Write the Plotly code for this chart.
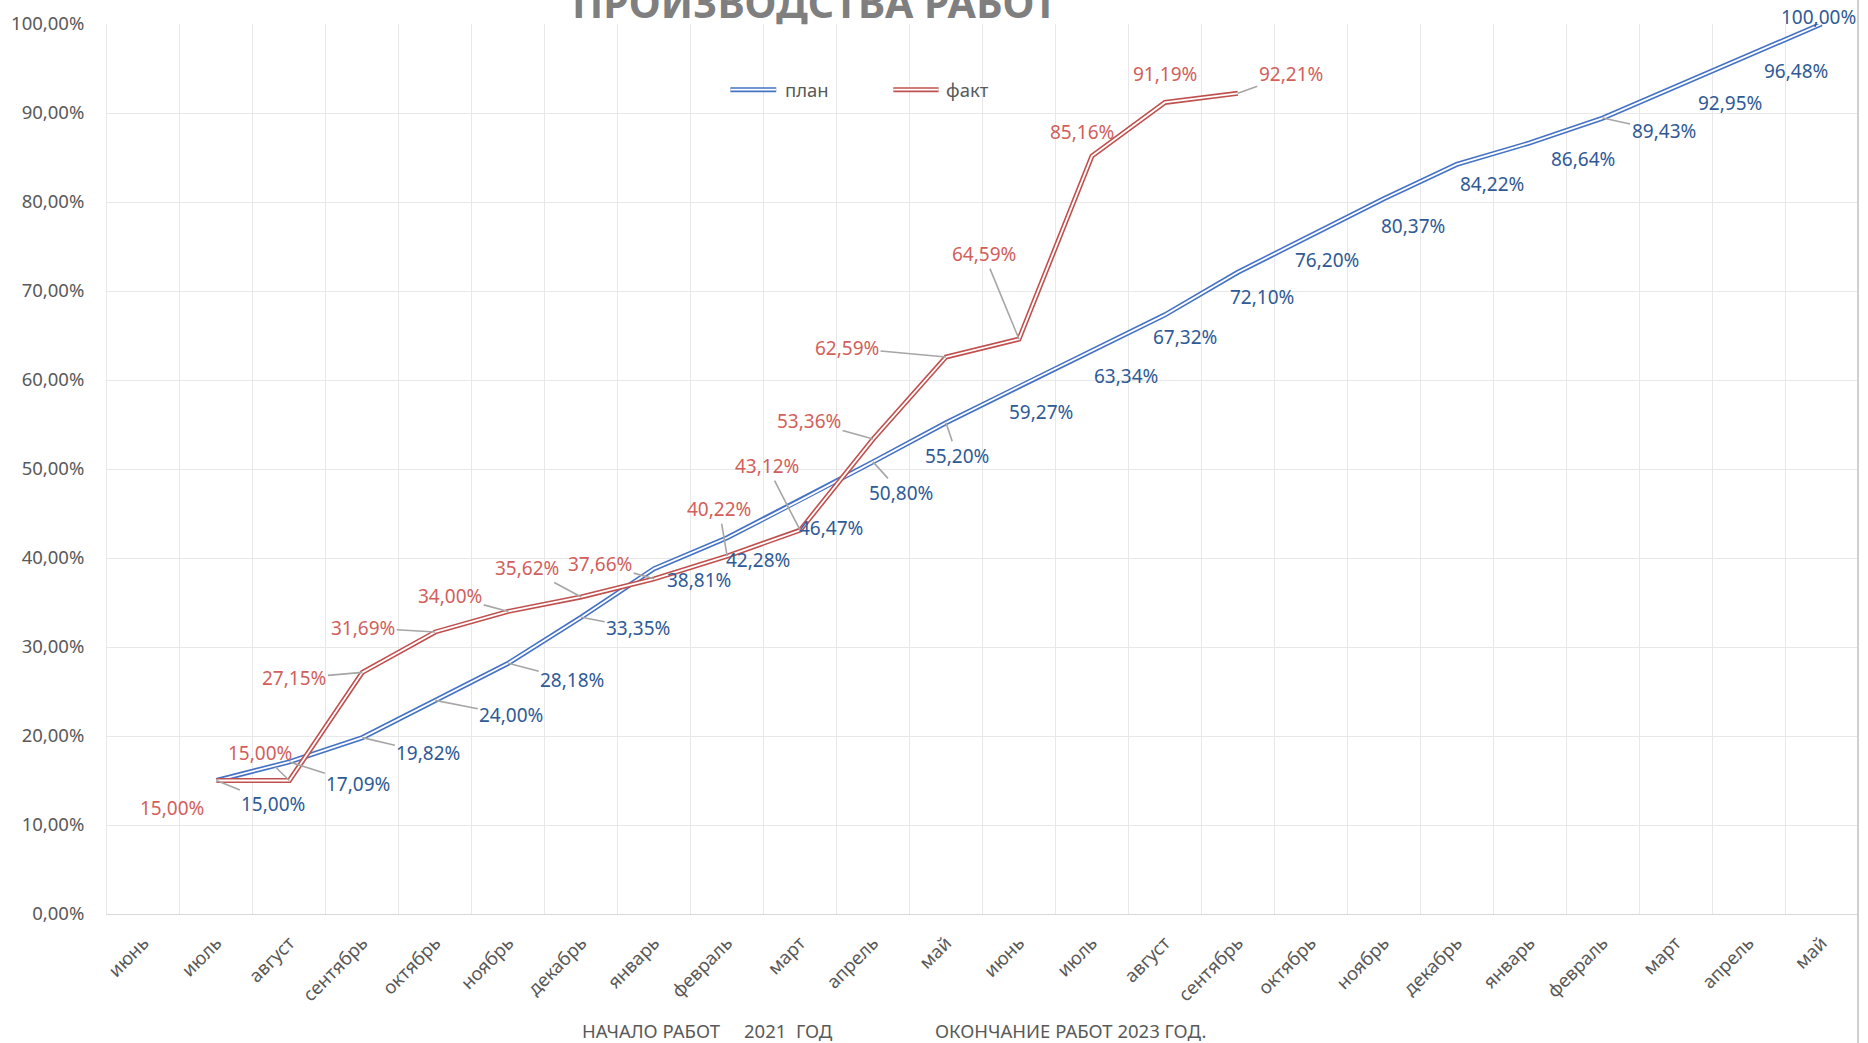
import plotly.graph_objects as go

# ---------------- data ----------------
months = ["июнь", "июль", "август", "сентябрь", "октябрь", "ноябрь", "декабрь",
          "январь", "февраль", "март", "апрель", "май",
          "июнь", "июль", "август", "сентябрь", "октябрь", "ноябрь", "декабрь",
          "январь", "февраль", "март", "апрель", "май"]

plan = [None, 15.00, 17.09, 19.82, 24.00, 28.18, 33.35, 38.81, 42.28, 46.47, 50.80,
        55.20, 59.27, 63.34, 67.32, 72.10, 76.20, 80.37, 84.22, 86.64, 89.43,
        92.95, 96.48, 100.00]

fact = [None, 15.00, 15.00, 27.15, 31.69, 34.00, 35.62, 37.66, 40.22, 43.12, 53.36,
        62.59, 64.59, 85.16, 91.19, 92.21,
        None, None, None, None, None, None, None, None]

y_ticks = [0, 10, 20, 30, 40, 50, 60, 70, 80, 90, 100]
y_tick_labels = ["0,00%", "10,00%", "20,00%", "30,00%", "40,00%", "50,00%",
                 "60,00%", "70,00%", "80,00%", "90,00%", "100,00%"]

series_names = ["план", "факт"]
title_text = "ПРОИЗВОДСТВА РАБОТ"
footer_left = "НАЧАЛО РАБОТ\u00a0\u00a0\u00a0\u00a0\u00a02021\u00a0\u00a0ГОД"
footer_right = "ОКОНЧАНИЕ РАБОТ 2023 ГОД."

# ---------------- label placement (pixel offsets, leader on/off) ----------------
plan_off = [(57, 23), (69, 22), (66, 15.5), (76, 15), (64, 17), (57, 11), (45, 11.5),
            (31, 22.5), (31, 28), (28, 31), (11, 33), (22, 25), (34, 26), (20, 22),
            (24, 25), (16, 24), (29, 27), (35, 20), (53, 16), (61, 13), (54, 16),
            (47, 16), (-3, -7)]
plan_leader = [1, 1, 1, 1, 1, 1, 0, 0, 0, 1, 1, 0, 0, 0, 0, 0, 0, 0, 0, 1, 0, 0, 0]

fact_off = [(-44, 27), (-29, -28), (-68, 6), (-72, -4), (-58, -15.5), (-54, -29),
            (-54, -15), (-8, -47), (-33, -64), (-64, -18), (-99, -9), (-35, -85),
            (-10, -24), (0, -28), (53, -19)]
fact_leader = [0, 1, 1, 1, 1, 1, 1, 1, 1, 1, 1, 1, 0, 0, 1]

# ---------------- styles ----------------
FONT = "Noto Sans"
BLUE = "#4472C4"
RED = "#C0504D"
BLUE_LBL = "#2F5A96"
RED_LBL = "#D25F5C"
GRID = "#E8E8E8"
TXT = "#595959"
LEADER = "#A6A6A6"
LW_OUT = 5.0
LW_IN = 1.8

x_idx = list(range(len(months)))

fig = go.Figure()
for vals, col in ((plan, BLUE), (fact, RED)):
    fig.add_trace(go.Scatter(x=x_idx, y=vals, mode="lines",
                             line=dict(color=col, width=LW_OUT),
                             hoverinfo="skip", showlegend=False))
    fig.add_trace(go.Scatter(x=x_idx, y=vals, mode="lines",
                             line=dict(color="white", width=LW_IN),
                             hoverinfo="skip", showlegend=False))


def fmt(v):
    return f"{v:.2f}".replace(".", ",") + "%"


annotations = []


def add_labels(vals, offs, leaders, color):
    k = 0
    for i, v in enumerate(vals):
        if v is None:
            continue
        ax, ay = offs[k]
        lead = leaders[k]
        k += 1
        annotations.append(dict(
            x=i, y=v, xref="x", yref="y", text=fmt(v),
            showarrow=True, arrowhead=0, arrowwidth=1.6, standoff=0,
            arrowcolor=LEADER if lead else "rgba(0,0,0,0)",
            ax=ax, ay=ay, axref="pixel", ayref="pixel",
            font=dict(family=FONT, size=19, color=color)))


add_labels(plan, plan_off, plan_leader, BLUE_LBL)
add_labels(fact, fact_off, fact_leader, RED_LBL)

# title (cut off at the top as in the reference)
annotations.append(dict(x=0.4040, y=0.9906, xref="paper", yref="paper",
                        xanchor="center", yanchor="bottom", showarrow=False,
                        text="<b>" + title_text + "</b>",
                        font=dict(family=FONT, size=41, color="#7F7F7F")))

# legend texts
LEG_Y = 0.9262
annotations.append(dict(x=0.386, y=LEG_Y, xref="paper", yref="paper",
                        xanchor="left", yanchor="middle", showarrow=False,
                        text=series_names[0], font=dict(family=FONT, size=18.5, color=TXT)))
annotations.append(dict(x=0.478, y=LEG_Y, xref="paper", yref="paper",
                        xanchor="left", yanchor="middle", showarrow=False,
                        text=series_names[1], font=dict(family=FONT, size=18.5, color=TXT)))

# footer
annotations.append(dict(x=(580 - 107) / 1751, y=-0.1305, xref="paper", yref="paper",
                        xanchor="left", yanchor="middle", showarrow=False,
                        text=footer_left, font=dict(family=FONT, size=18.5, color=TXT)))
annotations.append(dict(x=(933 - 107) / 1751, y=-0.1305, xref="paper", yref="paper",
                        xanchor="left", yanchor="middle", showarrow=False,
                        text=footer_right, font=dict(family=FONT, size=18.5, color=TXT)))

shapes = []
# legend double lines
for (x0, x1), col in (((0.356, 0.3822), BLUE), ((0.4491, 0.4749), RED)):
    shapes.append(dict(type="line", xref="paper", yref="paper", x0=x0, x1=x1,
                       y0=LEG_Y, y1=LEG_Y, line=dict(color=col, width=LW_OUT)))
    shapes.append(dict(type="line", xref="paper", yref="paper", x0=x0, x1=x1,
                       y0=LEG_Y, y1=LEG_Y, line=dict(color="white", width=LW_IN)))
# chart-area right border
shapes.append(dict(type="line", xref="paper", yref="paper", x0=1, x1=1,
                   y0=-0.15, y1=1.03, line=dict(color="#D0D0D0", width=2)))

fig.update_layout(
    width=1868, height=1043,
    margin=dict(l=107, r=10, t=21, b=129),
    paper_bgcolor="white", plot_bgcolor="white",
    showlegend=False,
    annotations=annotations, shapes=shapes,
    xaxis=dict(range=[-0.5, len(months) - 0.5], tickmode="array",
               tickvals=x_idx, ticktext=months, tickangle=-45,
               showgrid=False, zeroline=False, ticks="",
               minor=dict(tickmode="array",
                          tickvals=[i - 0.5 for i in range(len(months) + 1)],
                          showgrid=True, gridcolor=GRID, gridwidth=1, ticks=""),
               showline=True, linecolor="#D9D9D9", linewidth=1,
               ticklabelstandoff=10,
               tickfont=dict(family=FONT, size=18.5, color=TXT)),
    yaxis=dict(range=[0, 100], tickmode="array", tickvals=y_ticks,
               ticktext=y_tick_labels, showgrid=True, gridcolor=GRID, gridwidth=1,
               zeroline=False, ticks="", showline=True, linecolor=GRID, linewidth=1,
               ticklabelstandoff=18,
               tickfont=dict(family=FONT, size=18.5, color=TXT)),
)

fig.write_html("out.html", config={"displayModeBar": False},
               post_script="document.body.style.margin='0';document.body.style.overflow='hidden';")
